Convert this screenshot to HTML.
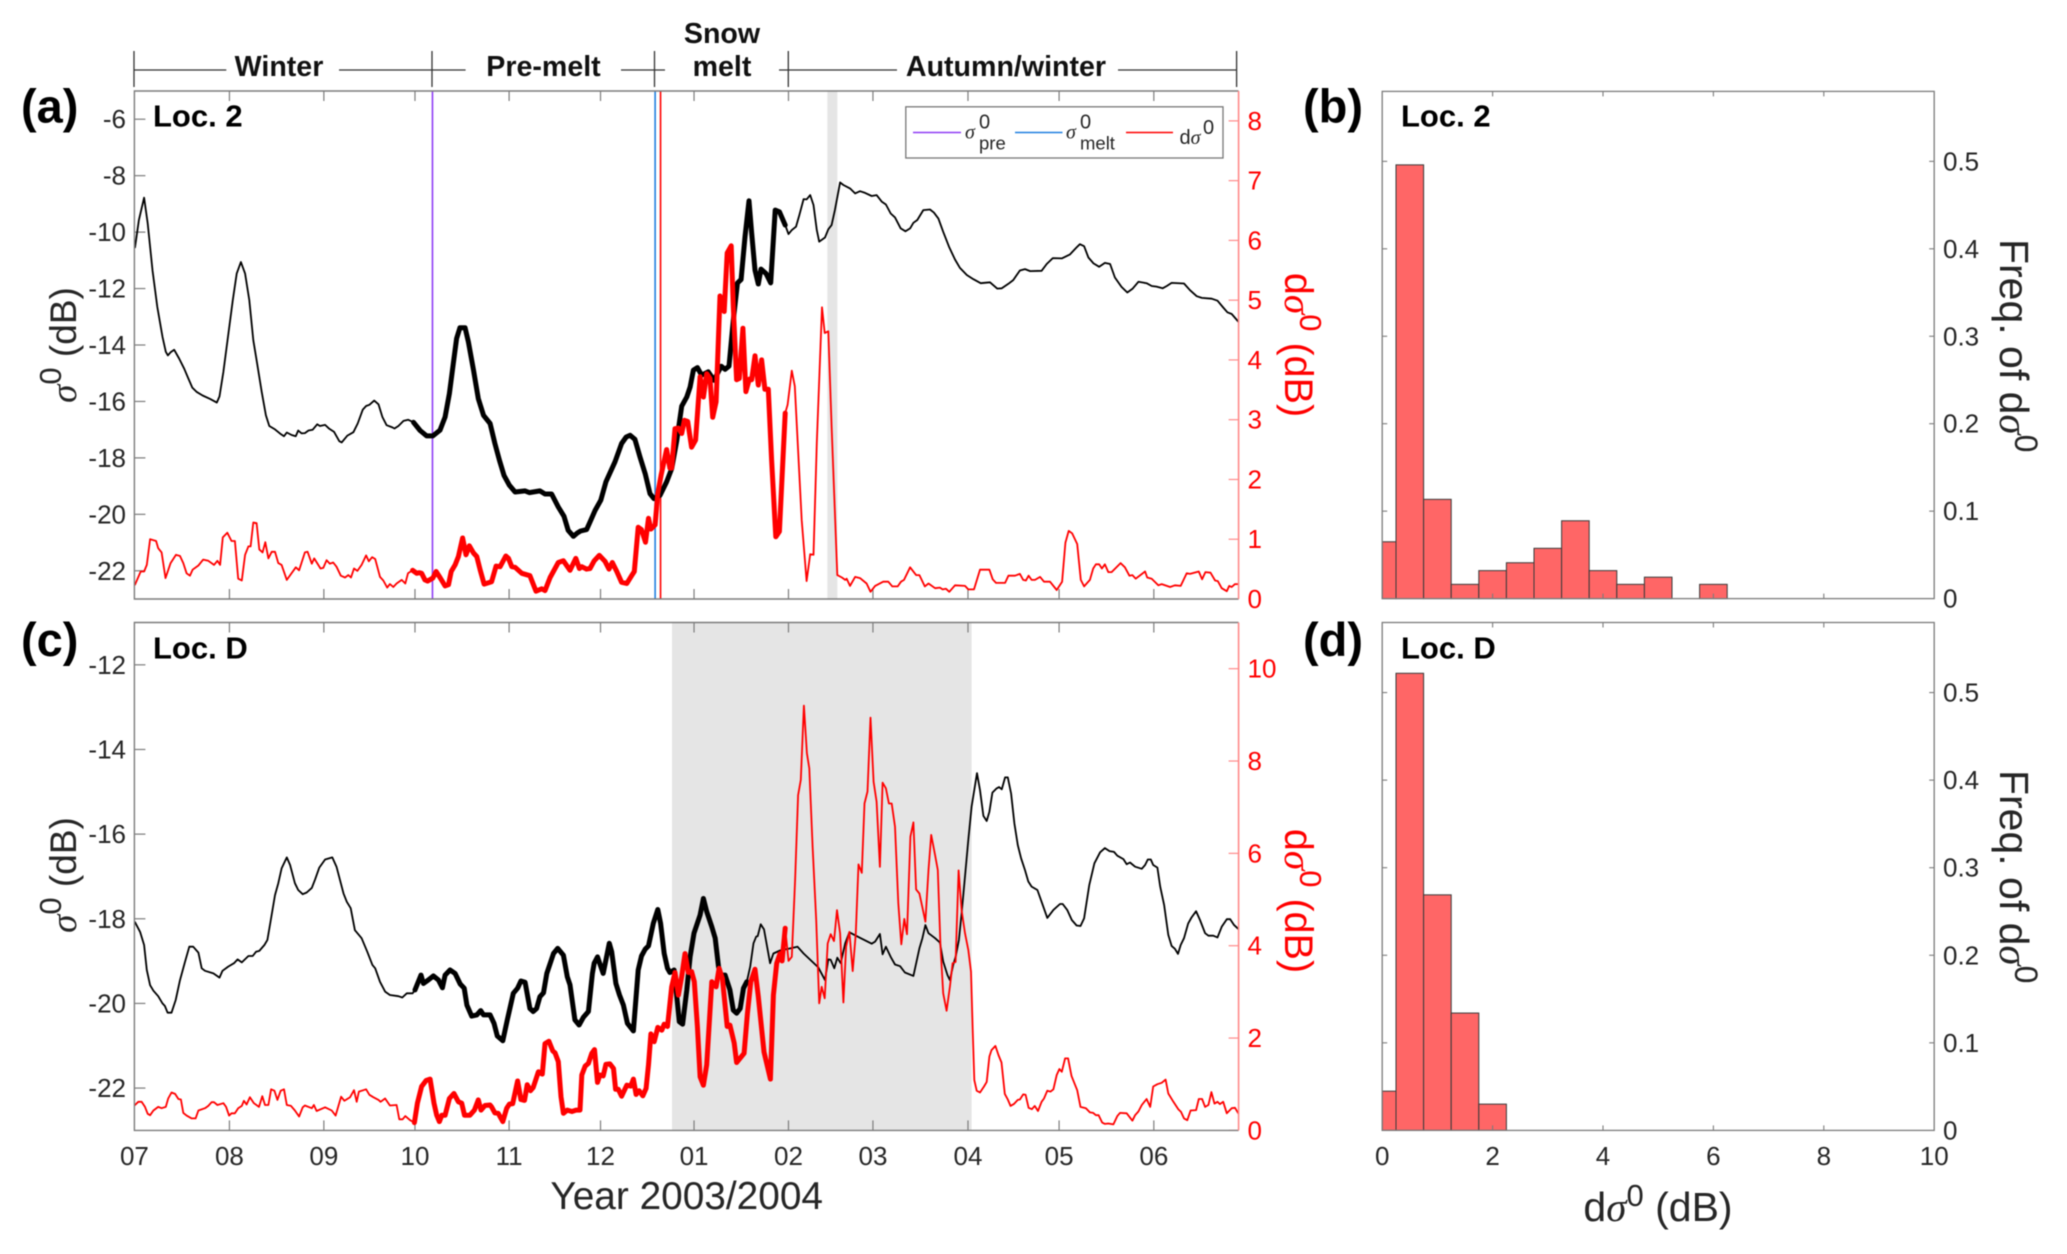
<!DOCTYPE html>
<html lang="en">
<head>
<meta charset="utf-8">
<title>Backscatter time series and histograms</title>
<style>
html,body{margin:0;padding:0;background:#fff;}
svg{display:block;font-family:"Liberation Sans",sans-serif;filter:blur(0.4px);}
.sig{font-family:"Liberation Serif",serif;font-style:italic;}
.hdr{font-weight:bold;font-size:28.6px;fill:#111;text-anchor:middle;}
.pl{font-weight:bold;font-size:47px;fill:#000;}
.loc{font-weight:bold;font-size:31px;fill:#000;}
.lab{font-size:37px;fill:#262626;text-anchor:middle;}
.rlab{font-size:39.5px;fill:#f00;text-anchor:middle;}
.flab{font-size:41px;fill:#262626;text-anchor:middle;}
.hl{stroke:#333;stroke-width:1.3;fill:none;}
.leg{font-size:20px;fill:#262626;}
.legs{font-size:18.5px;fill:#262626;}
</style>
</head>
<body>
<svg id="fig" xmlns="http://www.w3.org/2000/svg" width="2067" height="1254" viewBox="0 0 2067 1254">
<rect x="0" y="0" width="2067" height="1254" fill="#fff"/>
<g id="plots"></g>

<g>
<path class="hl" d="M134 51V87M432 51V87M654.5 51V87M788.3 51V87M1236.6 51V87"/>
<path class="hl" d="M134 70H226.3M339 70H465.6M621 70H665M779 70H897M1118 70H1237"/>
<text class="hdr" x="279" y="76">Winter</text>
<text class="hdr" x="543.5" y="76">Pre-melt</text>
<text class="hdr" x="722" y="43">Snow</text>
<text class="hdr" x="722" y="76">melt</text>
<text class="hdr" x="1006" y="76">Autumn/winter</text>
</g>

<g>
<text class="pl" x="21" y="122.6">(a)</text>
<text class="pl" x="1303" y="122.6">(b)</text>
<text class="pl" x="21" y="656">(c)</text>
<text class="pl" x="1303" y="656">(d)</text>
<text class="loc" x="153" y="126.5">Loc. 2</text>
<text class="loc" x="1401" y="126.5">Loc. 2</text>
<text class="loc" x="153" y="658.4">Loc. D</text>
<text class="loc" x="1401" y="658.4">Loc. D</text>
</g>

<g>
<text class="lab" transform="translate(76,345) rotate(-90)"><tspan class="sig">σ</tspan><tspan dy="-15" font-size="31">0</tspan><tspan dy="15"> (dB)</tspan></text>
<text class="lab" transform="translate(76,875) rotate(-90)"><tspan class="sig">σ</tspan><tspan dy="-15" font-size="31">0</tspan><tspan dy="15"> (dB)</tspan></text>
<text class="rlab" transform="translate(1285,345) rotate(90)">d<tspan class="sig">σ</tspan><tspan dy="-15" font-size="31">0</tspan><tspan dy="15"> (dB)</tspan></text>
<text class="rlab" transform="translate(1285,901) rotate(90)">d<tspan class="sig">σ</tspan><tspan dy="-15" font-size="31">0</tspan><tspan dy="15"> (dB)</tspan></text>
<text class="flab" transform="translate(2000,345.7) rotate(90)">Freq. of d<tspan class="sig">σ</tspan><tspan dy="-15" font-size="32">0</tspan></text>
<text class="flab" transform="translate(2000,876.7) rotate(90)">Freq. of d<tspan class="sig">σ</tspan><tspan dy="-15" font-size="32">0</tspan></text>
<text font-size="38.8" fill="#262626" text-anchor="middle" x="686.7" y="1209">Year 2003/2004</text>
<text class="flab" x="1658" y="1221">d<tspan class="sig">σ</tspan><tspan dy="-15" font-size="31">0</tspan><tspan dy="15"> (dB)</tspan></text>
</g>

<g id="legend">
<rect x="905.8" y="106.8" width="317.2" height="51.2" fill="#fff" stroke="#777" stroke-width="1.3"/>
<line x1="913" x2="961" y1="132.5" y2="132.5" stroke="#8f3df5" stroke-width="1.6"/>
<text class="leg sig" x="965" y="138.4">σ</text>
<text class="leg" x="979" y="128.5">0</text>
<text class="legs" x="979" y="149.5">pre</text>
<line x1="1015" x2="1062.5" y1="132.5" y2="132.5" stroke="#1f7fe0" stroke-width="1.6"/>
<text class="leg sig" x="1066" y="138.4">σ</text>
<text class="leg" x="1080" y="128.5">0</text>
<text class="legs" x="1080" y="149.5">melt</text>
<line x1="1126" x2="1173" y1="132.5" y2="132.5" stroke="#f00" stroke-width="1.6"/>
<text class="leg" x="1179.5" y="144">d<tspan class="sig">σ</tspan></text>
<text class="leg" x="1203" y="134">0</text>
</g>
</svg>

<script>
/* Month ticks (axis-day position from 1 July) */
const monthLabels=['07','08','09','10','11','12','01','02','03','04','05','06'];
const monthDays=[0,31.5,62.8,93,124.2,154.5,185.5,216.8,244.8,276.3,306.5,337.9];

/* Left and right tick labels */
const sigmaTicksA=[-22,-20,-18,-16,-14,-12,-10,-8,-6];
const dsigmaTicksA=[0,1,2,3,4,5,6,7,8];
const sigmaTicksC=[-22,-20,-18,-16,-14,-12];
const dsigmaTicksC=[0,2,4,6,8,10];
const freqTicks=[0,0.1,0.2,0.3,0.4,0.5];
const dsigmaBinTicks=[0,2,4,6,8,10];

/* Event dates in axis days */
const preMeltDay=[98.8];
const meltDay=[172.6];
const dsigmaMaxDay=[174.4];
const greyBandA=[229.7,233];
const greyBandC=[178.2,277.5];
const highlightA=[92.2,215.7];
const highlightCSigma=[92.8,203];
const highlightCDsigma=[92.8,215.7];

/* Loc. 2 backscatter */
const sigmaDaysA=[
0.2,1.5,3.2,4.4,6.0,7.6,9.3,10.4,11.1,12.0,
13.2,14.8,16.5,17.9,19.2,20.6,22.6,25.1,27.3,28.2,
29.5,31.1,32.6,33.9,35.3,36.7,38.1,39.4,40.5,42.2,
43.6,44.7,46.6,48.3,49.6,50.5,52.1,53.5,54.3,55.4,
56.5,57.7,59.1,60.6,61.5,63.2,64.6,66.2,67.9,68.7,
70.6,72.6,74.0,75.7,76.8,77.9,79.5,80.9,82.2,83.6,
85.3,86.2,87.5,89.2,90.8,92.5,94.7,96.9,98.9,101.3,
103.0,104.4,105.7,106.8,107.9,109.6,110.7,112.4,114.0,115.7,
117.9,119.5,121.0,122.5,124.3,126.2,129.5,130.9,134.4,136.1,
138.3,140.5,142.4,143.8,145.5,146.8,147.9,149.9,151.0,152.7,
154.6,156.3,159.3,161.5,163.0,164.3,165.9,167.6,169.3,170.9,
172.2,174.2,176.4,178.1,179.8,181.4,183.1,184.2,185.3,186.6,
188.0,190.2,192.1,194.5,195.8,197.1,198.5,199.9,201.1,202.4,
203.7,204.6,205.7,206.8,207.7,209.4,210.9,212.4,213.8,215.7,
216.8,217.9,219.3,220.4,221.8,222.8,224.0,225.1,226.2,227.0,
228.9,230.0,231.1,232.2,233.9,235.0,237.2,238.9,240.5,242.2,
244.4,246.0,247.7,249.1,250.7,252.1,254.0,255.6,257.1,258.2,
259.5,261.5,263.7,265.0,266.5,268.1,270.1,272.0,273.6,275.9,
278.1,280.5,283.6,286.0,287.5,289.7,291.3,293.5,295.2,296.9,
300.7,302.4,304.4,307.4,310.1,312.3,313.4,314.8,316.2,317.9,
319.8,321.7,323.4,325.0,327.2,329.1,330.9,332.8,335.5,337.2,
338.8,340.8,342.2,343.8,347.9,349.9,352.1,353.8,357.1,359.0,
360.9,362.3,363.7,365.9];
const sigmaValuesA=[
-10.54,-9.57,-8.78,-9.69,-11.35,-12.65,-13.71,-14.24,-14.37,-14.26,
-14.17,-14.48,-14.84,-15.19,-15.51,-15.66,-15.79,-15.91,-16.04,-15.82,
-14.95,-13.65,-12.41,-11.47,-11.06,-11.47,-12.41,-13.83,-14.54,-15.66,
-16.49,-16.87,-16.99,-17.14,-17.23,-17.10,-17.19,-17.23,-17.03,-17.13,
-17.12,-17.03,-17.00,-16.81,-16.87,-16.83,-16.97,-17.08,-17.41,-17.45,
-17.21,-17.09,-16.78,-16.29,-16.16,-16.12,-15.97,-16.10,-16.55,-16.84,
-16.91,-16.96,-16.87,-16.69,-16.65,-16.74,-17.03,-17.22,-17.22,-17.02,
-16.55,-15.72,-14.66,-13.77,-13.39,-13.39,-13.89,-14.89,-15.90,-16.49,
-16.78,-17.49,-18.08,-18.62,-18.97,-19.21,-19.17,-19.23,-19.17,-19.28,
-19.28,-19.74,-20.07,-20.57,-20.78,-20.66,-20.59,-20.54,-20.27,-19.86,
-19.50,-18.85,-18.14,-17.49,-17.26,-17.20,-17.34,-17.97,-18.56,-19.27,
-19.44,-19.33,-18.85,-18.38,-17.38,-16.17,-15.84,-15.49,-14.89,-14.80,
-15.07,-14.95,-15.25,-14.75,-14.86,-14.75,-13.12,-11.80,-11.68,-10.17,
-8.89,-10.05,-11.35,-11.84,-11.31,-11.47,-11.80,-9.22,-9.28,-9.75,
-10.07,-9.93,-9.81,-9.40,-8.83,-8.84,-8.69,-9.04,-9.93,-10.34,
-10.19,-9.90,-9.75,-9.22,-8.24,-8.33,-8.45,-8.63,-8.55,-8.61,
-8.72,-8.69,-8.92,-9.02,-9.34,-9.48,-9.87,-9.97,-9.87,-9.67,
-9.57,-9.22,-9.20,-9.31,-9.52,-9.99,-10.54,-10.97,-11.26,-11.52,
-11.67,-11.81,-11.78,-12.00,-11.99,-11.83,-11.70,-11.36,-11.31,-11.38,
-11.37,-11.13,-10.92,-10.93,-10.79,-10.54,-10.43,-10.50,-10.90,-11.11,
-11.23,-11.09,-11.13,-11.61,-11.94,-12.14,-12.00,-11.76,-11.81,-11.91,
-11.93,-11.99,-11.91,-11.80,-11.82,-12.06,-12.27,-12.33,-12.36,-12.43,
-12.67,-12.84,-12.90,-13.17];

/* Loc. 2 dsigma */
const dsigmaDaysA=[
0.2,2.1,3.2,4.1,5.2,7.2,7.9,9.0,10.3,12.0,
13.8,15.1,16.2,17.3,18.4,19.3,21.2,22.8,24.5,26.4,
27.5,28.4,29.3,30.8,32.2,33.3,34.4,35.6,36.7,37.8,
38.5,39.4,40.5,41.4,42.5,43.4,44.4,45.5,46.6,47.7,
48.8,50.5,53.5,54.6,56.5,57.4,58.8,59.6,61.7,62.6,
63.7,64.8,65.9,67.0,68.4,69.8,70.9,71.8,72.8,73.9,
75.3,76.8,77.7,78.8,79.8,81.4,82.5,83.8,84.7,85.8,
86.9,88.6,89.8,90.7,92.2,93.6,94.4,95.2,96.3,97.2,
98.9,100.0,101.3,103.0,104.1,105.0,106.3,107.4,108.8,109.9,
111.0,112.4,113.5,114.6,115.9,118.4,119.9,121.2,123.1,124.0,
125.1,126.2,128.4,131.1,133.1,135.0,136.1,137.8,140.5,142.2,
144.4,146.3,147.5,148.3,149.9,151.0,152.4,154.1,156.0,157.3,
158.4,159.9,161.5,163.2,164.8,165.7,167.0,168.1,169.4,170.4,
171.2,172.6,173.5,174.6,176.4,177.5,178.1,179.2,180.3,181.4,
182.3,183.4,184.7,186.0,187.5,188.6,189.7,190.8,191.7,192.8,
194.1,195.5,196.5,197.8,198.5,199.6,200.5,201.7,202.7,203.8,
204.6,205.7,206.8,207.9,209.0,210.1,211.2,212.6,213.8,215.7,
216.5,217.9,218.9,221.2,222.8,224.0,225.1,226.2,227.9,228.8,
230.0,231.1,233.0,234.5,235.6,236.1,237.2,238.9,240.5,242.7,
244.0,245.5,248.2,249.9,251.2,253.0,254.1,255.1,257.1,259.1,
260.2,262.0,263.2,265.4,267.0,267.9,269.0,270.1,272.0,275.3,
276.4,278.3,280.3,283.4,284.5,285.6,288.6,289.7,291.9,293.5,
294.6,295.5,296.4,297.4,298.5,300.2,301.5,303.5,305.7,307.5,
308.6,309.7,310.8,312.5,313.7,314.8,316.7,317.8,318.7,319.8,
320.7,321.7,322.8,323.9,326.9,328.3,329.8,330.8,331.9,335.0,
335.7,337.2,339.4,340.5,343.3,344.9,346.8,348.8,349.9,352.8,
353.9,355.0,356.7,358.2,359.1,360.4,362.1,362.9,363.7,364.8,
365.9];
const dsigmaValuesA=[
0.24,0.46,0.46,0.57,1.00,0.97,0.85,0.78,0.35,0.60,
0.74,0.72,0.60,0.43,0.39,0.49,0.56,0.66,0.64,0.57,
0.64,0.57,1.03,1.11,0.97,0.97,0.34,0.31,0.74,0.88,
0.88,1.28,1.27,0.83,0.78,0.95,0.68,0.79,0.79,0.60,
0.57,0.32,0.53,0.48,0.78,0.79,0.59,0.68,0.51,0.52,
0.65,0.59,0.61,0.54,0.39,0.36,0.40,0.36,0.51,0.47,
0.57,0.73,0.63,0.70,0.67,0.37,0.31,0.19,0.25,0.20,
0.26,0.32,0.26,0.43,0.48,0.43,0.44,0.43,0.32,0.30,
0.35,0.46,0.36,0.22,0.24,0.46,0.57,0.71,1.02,0.74,
0.89,0.77,0.71,0.49,0.25,0.29,0.55,0.54,0.72,0.68,
0.54,0.53,0.43,0.39,0.13,0.17,0.14,0.36,0.61,0.64,
0.48,0.68,0.51,0.54,0.50,0.51,0.64,0.73,0.63,0.50,
0.61,0.46,0.28,0.26,0.39,0.46,1.20,1.16,0.95,1.35,
1.17,1.24,1.77,2.08,2.50,2.19,2.19,2.85,2.86,2.77,
2.99,2.97,2.54,2.66,3.72,3.38,3.77,3.69,3.04,3.30,
5.07,4.81,5.79,5.91,4.89,3.67,3.69,4.53,3.47,3.68,
3.67,4.07,3.58,4.00,3.51,3.51,2.33,1.04,1.13,3.11,
3.25,3.82,3.56,1.32,0.30,0.75,0.74,2.61,4.88,4.45,
4.48,2.89,0.40,0.36,0.32,0.34,0.22,0.37,0.35,0.26,
0.12,0.22,0.29,0.29,0.21,0.21,0.29,0.32,0.53,0.40,
0.40,0.21,0.26,0.18,0.19,0.16,0.17,0.12,0.23,0.22,
0.16,0.16,0.49,0.49,0.33,0.27,0.27,0.39,0.39,0.42,
0.32,0.31,0.39,0.32,0.32,0.37,0.29,0.29,0.15,0.29,
0.94,1.14,1.10,0.92,0.32,0.21,0.32,0.51,0.58,0.58,
0.51,0.58,0.45,0.45,0.60,0.53,0.39,0.40,0.34,0.46,
0.36,0.34,0.23,0.25,0.20,0.23,0.22,0.43,0.42,0.46,
0.33,0.45,0.44,0.31,0.30,0.18,0.13,0.22,0.20,0.25,
0.25];

/* Loc. D backscatter */
const sigmaDaysC=[
0.2,1.9,3.2,4.1,5.2,6.3,7.9,9.3,10.1,11.0,
12.3,13.7,15.1,16.8,18.2,19.5,21.2,22.3,23.4,26.2,
28.2,29.2,31.1,33.0,34.2,35.6,37.8,39.2,40.3,41.4,
43.1,44.1,45.2,46.6,47.7,48.8,50.5,51.6,53.2,54.3,
55.8,57.1,58.8,59.9,61.3,63.2,65.6,67.0,69.3,70.4,
71.7,73.1,75.3,77.2,78.9,79.8,81.4,83.1,84.7,87.5,
88.8,90.3,92.2,93.0,95.0,95.8,97.4,99.1,100.8,102.1,
103.0,104.6,106.3,108.0,109.3,110.2,111.8,113.5,114.8,115.7,
117.9,119.2,120.3,122.1,123.6,125.6,127.0,128.1,129.5,131.1,
132.2,133.3,134.4,135.6,136.7,138.9,140.3,142.2,143.5,144.4,
146.0,147.4,148.8,150.5,151.8,152.4,153.5,155.4,157.4,158.2,
159.6,160.8,162.1,163.4,165.4,167.0,168.1,169.3,170.4,172.0,
173.5,174.4,175.6,176.7,177.5,178.9,179.8,180.6,181.7,183.1,
184.2,185.5,187.5,188.6,189.7,191.4,192.5,193.6,194.3,195.8,
197.4,198.5,199.6,200.8,201.9,203.0,204.1,205.2,206.1,206.6,
207.6,208.7,210.7,211.8,214.0,216.8,219.8,221.8,226.7,228.9,
230.0,230.8,232.0,233.0,234.1,235.6,237.0,240.5,244.4,245.5,
247.1,248.0,249.1,250.7,252.1,253.8,255.4,258.2,260.2,261.2,
262.2,263.2,265.4,267.0,268.1,269.5,270.3,271.4,272.2,273.3,
274.2,275.3,276.4,277.5,279.3,280.3,281.4,282.5,283.4,284.4,
285.8,286.6,287.5,288.6,289.5,290.6,291.7,292.8,293.9,295.2,
296.3,297.4,299.3,300.7,302.6,304.6,306.8,307.7,309.2,310.7,
312.3,313.6,314.8,316.5,318.2,320.1,321.7,323.2,324.7,325.8,
327.8,328.9,330.0,331.7,333.9,335.0,335.9,336.9,337.7,339.1,
340.0,341.3,342.7,343.8,344.9,345.9,346.8,347.9,349.3,350.4,
351.9,353.2,354.9,356.0,357.6,359.0,360.4,362.1,363.2,364.5,
365.9];
const sigmaValuesC=[
-18.08,-18.31,-18.62,-19.21,-19.57,-19.70,-19.83,-20.00,-20.06,-20.22,
-20.22,-19.92,-19.45,-19.01,-18.66,-18.66,-18.80,-19.17,-19.23,-19.29,
-19.39,-19.23,-19.13,-19.05,-18.96,-19.03,-18.88,-18.88,-18.78,-18.76,
-18.62,-18.50,-18.03,-17.44,-17.16,-16.81,-16.55,-16.73,-17.16,-17.32,
-17.42,-17.38,-17.27,-17.07,-16.79,-16.60,-16.55,-16.77,-17.40,-17.60,
-17.75,-18.27,-18.46,-18.78,-19.09,-19.17,-19.49,-19.72,-19.80,-19.83,
-19.86,-19.76,-19.76,-19.68,-19.33,-19.53,-19.45,-19.35,-19.45,-19.63,
-19.33,-19.21,-19.29,-19.54,-19.64,-20.04,-20.30,-20.27,-20.17,-20.27,
-20.27,-20.47,-20.77,-20.88,-20.39,-19.76,-19.64,-19.47,-19.50,-20.12,
-20.19,-20.12,-19.84,-19.75,-19.29,-18.82,-18.70,-18.86,-19.37,-19.56,
-20.39,-20.51,-20.33,-20.19,-19.29,-19.05,-18.90,-19.29,-18.58,-18.78,
-19.53,-19.80,-20.04,-20.47,-20.65,-19.21,-18.88,-18.72,-18.64,-18.11,
-17.78,-18.11,-18.82,-19.17,-19.27,-19.21,-19.84,-20.43,-20.49,-19.68,
-18.90,-18.34,-17.91,-17.52,-17.83,-18.19,-18.46,-19.13,-19.33,-19.33,
-19.68,-20.16,-20.23,-20.12,-19.64,-19.49,-19.13,-18.58,-18.42,-18.41,
-18.13,-18.25,-19.05,-18.82,-18.75,-18.71,-18.66,-18.82,-19.15,-19.45,
-18.96,-18.97,-19.17,-18.92,-19.05,-18.58,-18.32,-18.45,-18.59,-18.54,
-18.36,-18.84,-18.66,-18.90,-19.08,-19.12,-19.27,-19.35,-18.70,-18.46,
-18.15,-18.34,-18.46,-18.56,-19.01,-19.33,-19.45,-19.09,-18.90,-18.50,
-17.87,-17.00,-16.14,-15.35,-14.56,-14.96,-15.57,-15.69,-15.47,-15.02,
-14.92,-14.89,-14.94,-14.66,-14.66,-15.04,-15.75,-16.26,-16.57,-16.85,
-17.12,-17.24,-17.32,-17.60,-17.98,-17.79,-17.65,-17.65,-17.79,-18.03,
-18.16,-18.17,-17.99,-17.20,-16.69,-16.43,-16.33,-16.40,-16.42,-16.51,
-16.59,-16.71,-16.67,-16.77,-16.82,-16.73,-16.60,-16.60,-16.73,-16.79,
-17.24,-17.67,-18.38,-18.64,-18.71,-18.83,-18.62,-18.46,-18.11,-17.97,
-17.82,-18.03,-18.34,-18.40,-18.40,-18.44,-18.19,-18.01,-18.01,-18.15,
-18.24];

/* Loc. D dsigma */
const dsigmaDaysC=[
0.2,1.3,2.4,3.5,4.4,5.2,6.3,7.9,9.0,10.4,
11.2,12.3,13.5,14.6,15.4,16.2,17.3,19.0,20.3,21.2,
23.4,24.5,25.6,26.4,27.5,29.5,30.4,31.4,32.2,33.3,
34.4,35.6,36.3,37.2,38.3,39.6,41.3,42.4,43.3,44.4,
45.3,46.4,47.4,48.5,49.6,50.5,51.9,53.2,54.6,55.8,
56.5,58.8,59.5,60.4,63.2,65.4,66.7,68.5,69.6,71.5,
72.8,73.7,74.4,76.8,77.9,79.2,80.9,81.6,83.1,84.7,
86.9,87.8,88.9,89.8,91.4,92.8,93.8,95.2,96.7,98.0,
99.3,100.2,101.1,101.9,103.0,104.4,105.9,107.4,108.5,109.4,
111.2,112.7,114.0,114.9,116.2,117.9,118.4,119.5,120.6,122.1,
123.4,124.3,125.4,127.0,128.1,129.3,130.2,131.3,132.2,133.9,
135.2,136.1,137.4,138.7,139.4,140.5,141.4,142.2,143.5,145.0,
146.4,147.7,148.3,149.4,150.5,151.6,152.5,153.5,154.3,155.4,
156.3,157.6,158.8,159.5,160.4,161.5,163.2,164.5,165.4,166.3,
167.3,168.5,169.6,170.4,171.2,172.3,173.5,174.8,175.6,176.7,
178.1,179.2,180.3,181.4,182.5,183.6,184.7,185.6,186.6,187.5,
188.6,189.7,191.4,192.8,193.8,194.9,196.5,197.4,198.8,199.6,
202.1,203.2,204.3,205.7,206.8,208.7,210.8,211.8,212.9,214.0,
214.7,215.7,216.8,217.9,219.0,220.0,220.9,221.9,222.9,223.7,
224.8,226.0,227.0,227.8,228.8,229.8,230.8,231.9,232.9,233.9,
235.0,235.9,237.0,238.1,239.1,240.0,241.1,242.0,243.0,244.0,
245.0,246.0,247.1,248.0,249.1,250.1,251.0,252.1,253.2,254.2,
255.2,256.1,257.2,258.2,259.1,260.2,261.2,262.2,263.2,264.1,
265.4,266.3,267.2,268.1,269.2,270.3,271.2,272.2,273.2,274.2,
275.3,276.4,277.3,277.9,278.4,279.2,280.3,281.6,282.5,283.4,
284.1,285.4,286.4,287.4,288.5,289.5,290.4,291.5,292.8,293.5,
294.6,295.4,296.4,297.5,298.4,299.5,300.7,301.5,302.6,303.7,
304.6,305.7,306.6,307.4,308.5,309.5,310.6,311.4,312.5,313.6,
315.4,316.7,317.8,318.7,319.6,320.8,321.7,322.8,324.5,325.8,
326.7,328.9,330.8,331.7,332.8,333.9,335.5,336.7,337.7,339.1,
340.5,341.8,342.7,344.4,346.0,346.9,347.9,349.0,350.1,351.9,
352.8,353.9,354.9,356.0,357.0,358.0,359.0,359.8,360.9,362.1,
363.7,364.8,365.9];
const dsigmaValuesC=[
0.55,0.62,0.62,0.51,0.36,0.33,0.43,0.51,0.48,0.51,
0.69,0.82,0.79,0.68,0.67,0.38,0.32,0.26,0.26,0.43,
0.48,0.53,0.61,0.61,0.55,0.59,0.51,0.32,0.37,0.37,
0.48,0.53,0.64,0.56,0.72,0.59,0.51,0.74,0.55,0.55,
0.89,0.86,0.66,0.86,0.89,0.55,0.53,0.43,0.30,0.50,
0.54,0.48,0.55,0.42,0.50,0.43,0.32,0.73,0.64,0.72,
0.87,0.62,0.84,0.89,0.77,0.72,0.66,0.62,0.69,0.54,
0.55,0.24,0.24,0.31,0.22,0.17,0.59,0.95,1.08,1.11,
0.59,0.33,0.19,0.33,0.33,0.69,0.80,0.62,0.59,0.33,
0.33,0.44,0.66,0.44,0.54,0.55,0.51,0.38,0.37,0.19,
0.48,0.57,0.58,1.07,0.67,0.65,0.99,0.86,0.93,1.27,
1.22,1.88,1.93,1.72,1.68,1.49,0.73,0.37,0.44,0.41,
0.44,0.44,1.20,1.39,1.45,1.67,1.75,1.04,1.20,1.18,
1.43,1.44,1.34,0.89,0.89,0.74,0.98,0.96,1.11,0.78,
0.86,0.75,0.91,1.42,2.09,1.92,2.23,2.17,2.30,2.25,
3.11,3.42,2.93,3.33,3.83,3.42,3.44,3.22,2.25,1.16,
0.98,1.42,3.22,3.11,3.51,3.29,2.25,2.28,1.89,1.47,
1.67,2.53,3.22,3.49,2.90,1.70,1.11,2.93,3.62,3.83,
3.67,4.38,3.67,3.76,5.42,7.26,7.59,9.20,8.17,7.84,
6.15,4.56,2.75,3.11,2.86,4.05,4.25,4.10,4.77,4.27,
2.77,3.98,4.30,3.45,4.27,5.76,5.58,7.08,7.34,8.94,
7.55,7.12,5.71,7.53,7.41,7.08,7.08,6.58,4.92,4.03,
4.58,4.25,6.36,6.67,5.22,5.13,4.83,4.52,5.64,6.40,
5.96,5.64,3.98,2.97,2.59,3.11,3.62,3.65,5.63,4.77,
4.27,3.91,3.44,2.10,1.09,0.86,0.82,0.95,1.05,1.60,
1.74,1.83,1.63,1.47,0.79,0.67,0.53,0.57,0.66,0.67,
0.78,0.77,0.49,0.46,0.53,0.42,0.62,0.69,0.86,0.84,
0.89,1.20,1.33,1.27,1.56,1.56,1.18,1.05,0.87,0.51,
0.48,0.39,0.38,0.33,0.33,0.17,0.14,0.15,0.13,0.31,
0.38,0.37,0.21,0.33,0.41,0.55,0.68,0.51,0.95,1.00,
1.03,1.10,0.80,0.62,0.46,0.40,0.26,0.22,0.43,0.44,
0.68,0.68,0.51,0.55,0.83,0.58,0.62,0.57,0.62,0.37,
0.48,0.49,0.37];

/* Histograms */
const binCenters=[0,0.5,1,1.5,2,2.5,3,3.5,4,4.5,5,5.5,6];
const freqLoc2=[0.065,0.496,0.1135,0.0163,0.032,0.041,0.0575,0.089,0.032,0.0163,0.0245,0,0.0163];
const freqLocD=[0.0448,0.522,0.269,0.134,0.03,0,0,0,0,0,0,0,0];

const NS='http://www.w3.org/2000/svg';
const plots=document.getElementById('plots');
const BOX='#7c7c7c';
const PINK='#ff8a8a';
const INK='#262626';
const linear=(d0,d1,r0,r1)=>v=>r0+(v-d0)*(r1-r0)/(d1-d0);
const xTime=linear(0,366,134.4,1238.6);
const xBin=linear(0,10,1382.2,1934.2);

function add(tag,parent){
  const e=document.createElementNS(NS,tag);
  parent.appendChild(e);
  return e;
}
function line(parent,x1,y1,x2,y2,color,w){
  const e=add('line',parent);
  e.setAttribute('x1',x1);e.setAttribute('y1',y1);e.setAttribute('x2',x2);e.setAttribute('y2',y2);
  e.setAttribute('stroke',color);e.setAttribute('stroke-width',w);
  return e;
}
function label(parent,x,y,str,anchor,color){
  const e=add('text',parent);
  e.setAttribute('x',x);e.setAttribute('y',y);
  e.setAttribute('font-size','26');e.setAttribute('text-anchor',anchor);e.setAttribute('fill',color);
  e.textContent=str;
  return e;
}
function seriesPath(parent,days,vals,yFn,color,w,from,to){
  const pts=[];
  for(let i=0;i<days.length;i++){
    if(days[i]>=from&&days[i]<=to){pts.push(xTime(days[i]).toFixed(1)+','+yFn(vals[i]).toFixed(1));}
  }
  const e=add('polyline',parent);
  e.setAttribute('points',pts.join(' '));
  e.setAttribute('fill','none');e.setAttribute('stroke',color);e.setAttribute('stroke-width',w);
  e.setAttribute('stroke-linejoin','round');e.setAttribute('stroke-linecap','round');
  return e;
}

function timePanel(id,top,bot,sMin,sMax,dMax,sTicks,dTicks,band,sDays,sVals,dDays,dVals,hiS,hiD,showX){
  const g=add('g',plots);
  
  
  const yS=linear(sMin,sMax,bot,top);
  const yD=linear(0,dMax,bot,top);
  const L=xTime(0),R=xTime(366);

  const bandEl=add('rect',g);
  
  
  bandEl.setAttribute('x',xTime(band[0]));bandEl.setAttribute('y',top);
  bandEl.setAttribute('width',xTime(band[1])-xTime(band[0]));bandEl.setAttribute('height',bot-top);
  bandEl.setAttribute('fill','#e5e5e5');

  monthDays.forEach((d,i)=>{
    if(i>0){
      const tb=line(g,xTime(d),bot,xTime(d),bot-10,BOX,1.2);
      
      
      const tt=line(g,xTime(d),top,xTime(d),top+10,BOX,1.2);
      
      
    }
    if(showX){
      const t=label(g,xTime(d),1165,monthLabels[i],'middle',INK);
      
      
    }
  });
  sTicks.forEach(v=>{
    const t=line(g,L,yS(v),L+11,yS(v),BOX,1.2);
    
    
    const s=label(g,126,yS(v)+9,String(v),'end',INK);
    
    
  });
  dTicks.forEach(v=>{
    const t=line(g,R,yD(v),R-10,yD(v),PINK,1.2);
    
    
    const s=label(g,1247.5,yD(v)+9,String(v),'start','#f00');
    
    
  });

  if(id==='a'){
    const a=line(g,xTime(preMeltDay[0]),top,xTime(preMeltDay[0]),bot,'#8f3df5',1.6);
    
    
    const b=line(g,xTime(meltDay[0]),top,xTime(meltDay[0]),bot,'#1f7fe0',1.6);
    
    
    const c=line(g,xTime(dsigmaMaxDay[0]),top,xTime(dsigmaMaxDay[0]),bot,'#f00',1.6);
    
    
  }

  const s1=seriesPath(g,sDays,sVals,yS,'#000',1.8,0,400);
  
  
  const s2=seriesPath(g,sDays,sVals,yS,'#000',5,hiS[0],hiS[1]);
  
  
  const d1=seriesPath(g,dDays,dVals,yD,'#f00',1.8,0,400);
  
  
  const d2=seriesPath(g,dDays,dVals,yD,'#f00',5,hiD[0],hiD[1]);
  
  

  const lb=add('path',g);
  
  
  lb.setAttribute('d','M'+R+' '+top+'H'+L+'V'+bot+'H'+R);
  lb.setAttribute('fill','none');lb.setAttribute('stroke',BOX);lb.setAttribute('stroke-width',1.4);
  const rb=line(g,R,top,R,bot,PINK,1.6);
  
  
}

function histPanel(id,top,bot,freq,showX){
  const g=add('g',plots);
  
  
  const y=linear(0,0.58,bot,top);
  const L=xBin(0),R=xBin(10);
  binCenters.forEach((c,i)=>{
    if(freq[i]<=0)return;
    const x0=xBin(Math.max(0,c-0.25)),x1=xBin(c+0.25);
    const r=add('rect',g);
    
    
    r.setAttribute('x',x0);r.setAttribute('y',y(freq[i]));
    r.setAttribute('width',x1-x0);r.setAttribute('height',bot-y(freq[i]));
    r.setAttribute('fill','#ff6666');r.setAttribute('stroke','#3a3a3a');r.setAttribute('stroke-width',1);
  });
  dsigmaBinTicks.forEach(v=>{
    if(v>0&&v<10){
      const a=line(g,xBin(v),bot,xBin(v),bot-5,BOX,1.1);
      
      
      const b=line(g,xBin(v),top,xBin(v),top+5,BOX,1.1);
      
      
    }
    if(showX){
      const t=label(g,xBin(v),1165,String(v),'middle',INK);
      
      
    }
  });
  freqTicks.forEach(v=>{
    if(v>0){
      const a=line(g,L,y(v),L+5,y(v),BOX,1.1);
      
      
      const b=line(g,R,y(v),R-5,y(v),BOX,1.1);
      
      
    }
    const t=label(g,1943,y(v)+9,String(v),'start',INK);
    
    
  });
  const box=add('rect',g);
  
  
  box.setAttribute('x',L);box.setAttribute('y',top);box.setAttribute('width',R-L);box.setAttribute('height',bot-top);
  box.setAttribute('fill','none');box.setAttribute('stroke',BOX);box.setAttribute('stroke-width',1.3);
}

timePanel('a',91,599,-23,-5,8.5,sigmaTicksA,dsigmaTicksA,greyBandA,sigmaDaysA,sigmaValuesA,dsigmaDaysA,dsigmaValuesA,highlightA,highlightA,false);
timePanel('c',622.5,1130.4,-23,-11,11,sigmaTicksC,dsigmaTicksC,greyBandC,sigmaDaysC,sigmaValuesC,dsigmaDaysC,dsigmaValuesC,highlightCSigma,highlightCDsigma,true);
histPanel('b',91.4,598.6,freqLoc2,false);
histPanel('d',622.5,1130.4,freqLocD,true);
</script>
</body>
</html>
